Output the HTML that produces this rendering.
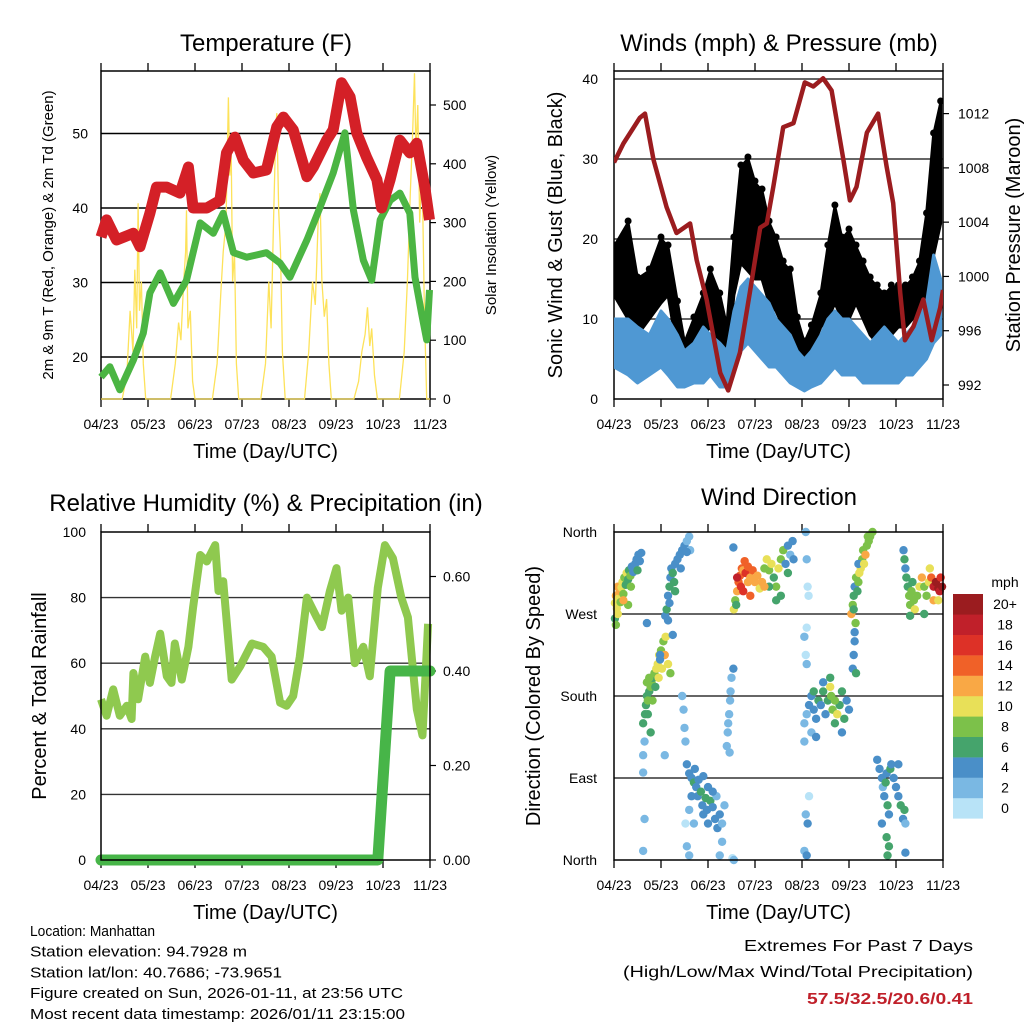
<!DOCTYPE html>
<html><head><meta charset="utf-8">
<style>
html,body{margin:0;padding:0;background:#fff;}
svg{display:block;font-family:"Liberation Sans",sans-serif;}
</style></head>
<body>
<svg id="chart" width="1024" height="1024" viewBox="0 0 1024 1024" xmlns="http://www.w3.org/2000/svg"></svg>
<script>
// ---------- DATA ----------
const xTickLabels = ["04/23","05/23","06/23","07/23","08/23","09/23","10/23","11/23"];
// Temperature (F)
const tempT = [0,0.12,0.33,0.69,0.83,1.04,1.18,1.40,1.68,1.86,1.96,2.25,2.53,2.67,2.85,3.03,3.24,3.52,3.74,3.88,4.09,4.38,4.52,4.80,4.94,5.12,5.30,5.44,5.65,5.87,5.97,6.15,6.36,6.57,6.72,6.89,6.99];
const tempV = [36.1,38.4,35.7,36.6,34.8,39.3,42.8,42.8,42,45.5,40,40,41,47.4,49.5,46.4,44.7,45.1,50.9,52.2,50.5,44.2,45.5,49.1,50.5,56.8,54.9,50.1,46.8,43.8,40,43.8,49.1,47.4,48.7,42.8,38.4];
const dewT = [0,0.19,0.40,0.69,0.90,1.04,1.26,1.54,1.82,2.11,2.39,2.60,2.82,3.10,3.52,3.81,4.02,4.38,4.66,4.94,5.19,5.37,5.58,5.76,5.94,6.15,6.36,6.57,6.68,6.82,6.93,6.99];
const dewV = [17.3,18.7,15.6,19.6,23.2,28.6,31.3,27.2,30.3,38,36.6,39.3,34,33.4,34,32.6,30.7,35.7,40.1,44.7,50.1,39.7,33,30.3,38.4,41,42,39.3,30.7,25.9,22.3,29];
const solarT = [0,0.45,0.55,0.62,0.68,0.72,0.76,0.79,0.82,0.86,0.90,0.95,1.48,1.58,1.65,1.70,1.76,1.80,1.82,1.85,1.90,1.95,2.00,2.37,2.47,2.55,2.60,2.66,2.71,2.74,2.77,2.80,2.84,2.88,2.93,3.40,3.50,3.57,3.62,3.67,3.72,3.74,3.78,3.82,3.86,3.92,4.33,4.42,4.50,4.56,4.62,4.66,4.70,4.75,4.80,4.85,4.90,5.38,5.48,5.55,5.62,5.67,5.72,5.76,5.82,5.88,6.35,6.45,6.52,6.58,6.63,6.67,6.70,6.74,6.78,6.83,6.88,6.93,7];
const solarV = [0,0,40,150,80,220,120,333,150,200,60,0,0,60,130,100,200,250,321,120,150,30,0,0,60,180,250,300,513,380,420,200,250,60,0,0,60,200,120,300,460,486,320,250,80,0,0,80,200,160,300,350,200,140,170,60,0,0,30,80,110,156,90,120,40,0,0,80,200,350,450,554,420,500,300,400,150,0,0];
// Winds & pressure
const windT = [0,0.3,0.5,0.75,1.0,1.15,1.35,1.5,1.7,1.9,2.05,2.25,2.4,2.55,2.7,2.85,3.0,3.15,3.3,3.45,3.6,3.75,3.9,4.05,4.2,4.4,4.55,4.7,4.85,5.0,5.15,5.3,5.45,5.6,5.75,5.9,6.05,6.2,6.35,6.5,6.65,6.8,6.95];
const gustHi = [19,22,15,16,20,19,12,7,10,13,16,13,9,20,29,30,27,26,22,20,17,16,10,7,9,13,19,24,20,21,19,17,15,14,13,14,14,14,15,17,23,33,37];
const gustLo = [13,10,8,10,12,13,6,4,6,8,9,7,4,13,17,16,15,15,12,11,9,8,5,5,6,9,10,12,10,10,12,10,8,7,7,8,9,9,10,11,13,18,22];
const sonicHi = [10,10,9,8,11,10,8,6,7,9,8,7,6,11,14,15,14,13,12,10,9,8,6,5,6,8,10,11,10,10,9,8,7,8,9,8,7,8,9,10,12,18,15];
const sonicLo = [4,3,2,3,4,3,1.5,1.5,2,2,3,1.5,1.5,4,6,7,6,5,4,4,3,2,1.5,1,1.5,2,3,4,3,3,3,2,2,2,2,2,2,3,3,4,5,7,8];
const presT = [0,0.2,0.55,0.66,0.84,1.12,1.33,1.62,1.76,1.97,2.26,2.43,2.68,2.89,3.11,3.25,3.39,3.6,3.82,4.06,4.24,4.45,4.63,4.88,5.02,5.16,5.38,5.62,5.8,5.94,6.09,6.19,6.37,6.58,6.76,6.94,7];
const presV = [1008.4,1009.8,1011.7,1012,1008.6,1005.1,1003.2,1003.9,1001.2,998.3,992.9,991.6,994.4,998.8,1003.6,1003.9,1006.6,1011,1011.3,1014.3,1014,1014.6,1013.7,1008.6,1005.6,1006.6,1010.6,1012,1008.1,1005.4,998.8,995.3,996.3,998.3,995.3,997.7,999];
// RH & precipitation
const rhT = [0,0.12,0.26,0.40,0.55,0.65,0.69,0.79,0.94,1.04,1.15,1.26,1.40,1.50,1.57,1.72,1.86,1.96,2.11,2.25,2.43,2.50,2.60,2.78,2.96,3.21,3.45,3.63,3.81,3.95,4.09,4.23,4.38,4.59,4.70,4.87,5.01,5.12,5.26,5.40,5.58,5.72,5.89,6.04,6.21,6.39,6.53,6.72,6.84,6.96];
const rhV = [49,44,52,44,47,43,57,49,62,54,62,69,56,54,66,55,65,77,93,91,96,82,85,55,59,66,65,62,48,47,50,62,80,74,71,82,89,76,80,60,65,56,83,96,92,80,74,46,38,72];
const precT = [0,5.89,6.15,7];
const precV = [0,0,0.40,0.40];
// Wind direction observations
const dirDay = [0.02,0.04,0.06,0.08,0.1,0.12,0.14,0.16,0.18,0.2,0.22,0.25,0.27,0.3,0.32,0.35,0.38,0.41,0.45,0.48,0.52,0.55,0.58,0.02,0.04,0.3,0.36,0.5,0.08,0.2,
0.62,0.66,0.68,0.7,0.72,0.75,0.78,0.8,0.83,0.86,0.9,0.93,0.96,1.0,1.05,1.1,0.7,0.75,0.88,0.95,1.02,0.72,0.78,0.82,1.08,1.15,1.2,0.65,0.62,0.62,0.65,0.62,1.08,0.98,0.7,0.98,
1.09,1.12,1.15,1.18,1.2,1.22,1.25,1.28,1.3,1.35,1.4,1.45,1.5,1.55,1.6,1.62,1.18,1.3,1.42,1.55,
1.15,1.25,1.45,1.48,1.5,1.52,1.52,1.55,1.6,
1.55,1.6,1.65,1.7,1.72,1.75,1.78,1.8,1.85,1.88,1.9,1.95,1.98,2.0,2.05,2.1,2.15,2.18,2.2,2.25,2.3,2.35,1.6,1.7,1.65,2.0,2.1,1.9,2.3,2.25,
2.4,2.42,2.45,2.47,2.48,2.5,2.43,2.46,2.52,2.55,2.54,2.54,
2.55,2.58,2.62,2.65,2.68,2.7,2.72,2.75,2.78,2.8,2.85,2.9,2.95,3.0,3.05,3.1,3.15,3.2,3.25,3.3,3.35,3.4,3.45,3.5,3.55,3.6,3.65,3.7,3.75,3.8,3.82,2.6,2.75,2.9,3.3,3.45,3.55,2.62,2.85,3.2,3.7,
4.08,4.1,4.12,4.14,4.1,4.05,4.08,4.1,4.15,4.08,4.12,4.05,4.1,
4.05,4.1,4.15,4.2,4.25,4.3,4.35,4.4,4.45,4.5,4.55,4.6,4.62,4.65,4.7,4.75,4.8,4.85,4.9,4.95,5.0,4.2,4.3,4.45,4.6,4.85,4.7,4.25,4.05,
5.08,5.1,5.12,5.12,5.15,5.14,
5.05,5.08,5.1,5.12,5.15,5.18,5.2,5.22,5.25,5.28,5.3,5.35,5.38,5.42,5.45,5.5,5.2,5.1,5.32,5.4,
5.6,5.65,5.7,5.72,5.75,5.78,5.8,5.82,5.85,5.88,5.9,5.95,6.0,6.05,6.1,6.15,6.18,5.85,5.8,5.82,6.05,5.7,6.2,6.2,
6.16,6.18,6.2,6.22,6.25,6.28,6.3,6.33,6.35,6.38,6.4,6.45,6.5,6.55,6.6,6.65,6.7,6.72,6.75,6.8,6.85,6.9,6.93,6.95,6.98,6.8,6.9,6.6,6.3];
const dirDeg = [282,290,276,300,287,295,283,299,305,292,310,302,315,308,318,312,322,316,325,330,335,328,337,265,258,280,300,318,270,285,
150,160,170,180,175,185,190,195,200,205,210,215,225,230,240,245,195,200,190,200,210,160,140,175,225,215,205,130,115,96,45,10,115,220,260,225,
268,275,290,300,310,320,315,305,325,330,335,340,345,350,355,340,282,295,320,338,
263,247,180,165,145,130,40,15,5,
105,95,90,85,100,80,70,88,75,60,50,68,55,40,65,58,45,70,35,50,40,60,55,40,70,80,75,92,20,5,
125,140,160,175,185,200,150,118,2,0,210,343,
275,285,295,305,312,300,320,318,328,315,322,310,318,305,312,298,305,320,330,318,325,310,300,320,330,340,325,345,335,350,330,280,295,290,300,285,290,310,305,300,315,
360,330,300,290,255,245,225,215,70,50,40,10,5,
150,160,170,180,165,155,175,170,185,160,175,190,180,165,150,160,170,185,155,175,165,140,135,195,200,140,175,185,130,
210,225,240,250,205,260,
270,280,290,300,310,295,305,315,320,330,340,335,345,350,355,360,325,275,325,355,
110,100,90,80,70,85,95,60,50,100,105,90,80,70,60,45,55,15,25,5,105,40,40,8,
340,330,320,310,300,290,280,295,305,285,275,290,300,310,300,290,305,320,310,300,305,298,295,310,300,285,285,270,268];
const dirSpd = [10,12,9,11,10,12,8,9,10,7,8,6,9,6,5,7,4,4,4,4,3,4,4,6,7,7,8,5,10,11,
5,6,6,6,7,6,8,7,6,8,9,10,9,8,8,9,8,7,6,10,10,6,6,8,11,10,7,2,2,2,2,2,2,4,3,3,
4,5,4,6,4,4,5,6,3,4,3,4,3,2,2,2,4,5,4,3,
4,3,2,2,2,2,0,2,2,
4,3,4,6,4,4,3,4,6,4,4,6,4,4,6,4,3,2,4,3,2,2,2,2,3,3,4,3,2,2,
2,2,2,2,2,2,2,2,0,2,4,4,
10,8,12,14,14,16,14,12,14,16,14,12,14,12,12,10,12,8,10,8,10,6,8,10,8,8,4,4,2,4,4,6,16,14,6,6,6,18,12,12,6,
2,2,0,0,0,2,0,2,0,2,4,2,4,
2,2,4,4,4,4,6,4,6,4,6,10,8,8,6,10,6,6,6,4,4,2,4,4,6,4,8,6,2,
4,4,4,4,6,8,
12,8,6,4,8,6,8,10,10,8,8,12,8,8,8,8,4,6,10,8,
4,4,4,2,4,6,4,6,4,6,4,4,4,4,6,4,6,6,6,6,4,4,2,4,
4,6,4,6,6,8,8,8,6,8,10,8,10,12,8,8,10,10,14,18,20,20,18,16,20,12,10,6,6];
const speedColors = ["#b8e3f7","#7ab8e3","#4a8fc8","#45a46c","#7cc14a","#e8e058","#f9a845","#f06128","#dd3127","#c0202a","#9b1c1f"];
const speedLabels = ["0","2","4","6","8","10","12","14","16","18","20+"];
const dirLabels = ["North","East","South","West","North"];

// ---------- HELPERS ----------
const NS = "http://www.w3.org/2000/svg";
const svg = document.getElementById("chart");
function mk(tag, attrs, parent) {
  const e = document.createElementNS(NS, tag);
  for (const k in attrs) e.setAttribute(k, attrs[k]);
  (parent || svg).appendChild(e);
  return e;
}
function txt(s, x, y, size, anchor, parent, extra) {
  const e = mk("text", Object.assign({x: x, y: y, "font-size": size, "text-anchor": anchor || "middle", fill: "#000"}, extra || {}), parent);
  e.textContent = s;
  return e;
}
function pathFrom(xs, ys) {
  let d = "";
  for (let i = 0; i < xs.length; i++) d += (i ? "L" : "M") + xs[i].toFixed(1) + "," + ys[i].toFixed(1);
  return d;
}
const XW = 47; // px per day
function xAxisScale(x0) { return d => x0 + d * XW; }

function frame(x0, y0, name) {
  const g = mk("g", {});
  
  
  for (let i = 0; i < xTickLabels.length; i++) {
    const x = x0 + i * XW;
    mk("line", {x1: x, x2: x, y1: y0 - 8, y2: y0, stroke: "#000", "stroke-width": 1.3}, g);
    mk("line", {x1: x, x2: x, y1: y0 + 328, y2: y0 + 336, stroke: "#000", "stroke-width": 1.3}, g);
    const t = txt(xTickLabels[i], x, y0 + 358, 14, "middle", g);
    
    
  }
  const xt = txt("Time (Day/UTC)", x0 + 164.5, y0 + 387, 20, "middle", g);
  
  
  return g;
}
function box(x0, y0, parent) {
  mk("rect", {x: x0, y: y0, width: 329, height: 328, fill: "none", stroke: "#000", "stroke-width": 1.5}, parent);
}
function hline(x0, y, parent, col) {
  mk("line", {x1: x0, x2: x0 + 329, y1: y, y2: y, stroke: col || "#000", "stroke-width": 1.4}, parent);
}

// ---------- PANEL 1: TEMPERATURE ----------
(function () {
  const x0 = 101, y0 = 71;
  const X = xAxisScale(x0);
  const YT = v => 357 - (v - 20) * 7.45;
  const YS = v => 399 - v * 0.588;
  const g = frame(x0, y0, "temperature-panel");
  const title = txt("Temperature (F)", 266, 51, 24, "middle");
  
  
  [20, 30, 40, 50].forEach(v => {
    hline(x0, YT(v), g);
    const t = txt(String(v), 88, YT(v) + 5, 14, "end", g);
    
    
  });
  [0, 100, 200, 300, 400, 500].forEach(v => {
    mk("line", {x1: 430, x2: 436, y1: YS(v), y2: YS(v), stroke: "#000", "stroke-width": 1.2}, g);
    const t = txt(String(v), 443, YS(v) + 5, 14, "start", g);
    
    
  });
  const sol = mk("path", {d: pathFrom(solarT.map(X), solarV.map(YS)), fill: "none", stroke: "#fde25a", "stroke-width": 1.3});
  
  
  const dew = mk("path", {d: pathFrom(dewT.map(X), dewV.map(YT)), fill: "none", stroke: "#4bb543", "stroke-width": 7, "stroke-linejoin": "round"});
  
  
  const tl = mk("path", {d: pathFrom(tempT.map(X), tempV.map(YT)), fill: "none", stroke: "#d42027", "stroke-width": 11, "stroke-linejoin": "round"});
  
  
  box(x0, y0, g);
  const yl = txt("2m & 9m T (Red, Orange) & 2m Td (Green)", 0, 0, 15, "middle", g, {transform: "translate(53,235) rotate(-90)"});
  
  
  const yr = txt("Solar Insolation (Yellow)", 0, 0, 15, "middle", g, {transform: "translate(496,235) rotate(-90)"});
  
  
})();

// ---------- PANEL 2: WINDS ----------
(function () {
  const x0 = 614, y0 = 71;
  const X = xAxisScale(x0);
  const YW = v => 399 - v * 8;
  const YP = v => 385 - (v - 992) * 13.57;
  const g = frame(x0, y0, "winds-panel");
  const title = txt("Winds (mph) & Pressure (mb)", 779, 51, 24, "middle");
  
  
  [10, 20, 30, 40].forEach(v => hline(x0, YW(v) , g, "#333"));
  [0, 10, 20, 30, 40].forEach(v => {
    const t = txt(String(v), 598, YW(v) + 5, 14, "end", g);
    
    
  });
  [992, 996, 1000, 1004, 1008, 1012].forEach(v => {
    mk("line", {x1: 943, x2: 949, y1: YP(v), y2: YP(v), stroke: "#000", "stroke-width": 1.2}, g);
    const t = txt(String(v), 958, YP(v) + 5, 14, "start", g);
    
    
  });
  const clip = mk("clipPath", {id: "c2"});
  mk("rect", {x: x0, y: y0, width: 329, height: 328}, clip);
  const data = mk("g", {"clip-path": "url(#c2)"});
  const gx = windT.map(X);
  let d = pathFrom(gx, gustHi.map(YW)) + pathFrom(gx.slice().reverse(), gustLo.map(YW).reverse()).replace("M", "L") + "Z";
  const ga = mk("path", {d: d, fill: "#000", stroke: "#000", "stroke-width": 3, "stroke-linejoin": "round"}, data);
  
  
  for (let i = 0; i < windT.length; i++) {
    const c = mk("circle", {cx: gx[i], cy: YW(gustHi[i]) - 2, r: 3.5, fill: "#000"}, data);
    
    
  }
  d = pathFrom(gx, sonicHi.map(YW)) + pathFrom(gx.slice().reverse(), sonicLo.map(YW).reverse()).replace("M", "L") + "Z";
  const sa = mk("path", {d: d, fill: "#4f98d3", stroke: "#4f98d3", "stroke-width": 3, "stroke-linejoin": "round"}, data);
  
  
  const pl = mk("path", {d: pathFrom(presT.map(X), presV.map(YP)), fill: "none", stroke: "#9b1c1f", "stroke-width": 4.5, "stroke-linejoin": "round"}, data);
  
  
  box(x0, y0, g);
  const yl = txt("Sonic Wind & Gust (Blue, Black)", 0, 0, 20, "middle", g, {transform: "translate(562,235) rotate(-90)"});
  
  
  const yr = txt("Station Pressure (Maroon)", 0, 0, 20, "middle", g, {transform: "translate(1020,235) rotate(-90)"});
  
  
})();

// ---------- PANEL 3: RH & PRECIP ----------
(function () {
  const x0 = 101, y0 = 532;
  const X = xAxisScale(x0);
  const YR = v => 860 - v * 3.28;
  const YP = v => 860 - v * 472.5;
  const g = frame(x0, y0, "humidity-panel");
  const title = txt("Relative Humidity (%) & Precipitation (in)", 266, 511, 24, "middle");
  
  
  [20, 40, 60, 80].forEach(v => hline(x0, YR(v), g, "#333"));
  [0, 20, 40, 60, 80, 100].forEach(v => {
    const t = txt(String(v), 86, YR(v) + 5, 14, "end", g);
    
    
  });
  [0, 0.2, 0.4, 0.6].forEach(v => {
    mk("line", {x1: 430, x2: 436, y1: YP(v), y2: YP(v), stroke: "#000", "stroke-width": 1.2}, g);
    const t = txt(v.toFixed(2), 443, YP(v) + 5, 14, "start", g);
    
    
  });
  const rh = mk("path", {d: pathFrom(rhT.map(X), rhV.map(YR)), fill: "none", stroke: "#8fc94f", "stroke-width": 8, "stroke-linejoin": "round"}, g);
  
  
  const pr = mk("path", {d: pathFrom(precT.map(X), precV.map(YP)), fill: "none", stroke: "#47b548", "stroke-width": 11, "stroke-linejoin": "round", "stroke-linecap": "round"}, g);
  
  
  box(x0, y0, g);
  const yl = txt("Percent & Total Rainfall", 0, 0, 20, "middle", g, {transform: "translate(46,696) rotate(-90)"});
  
  
})();

// ---------- PANEL 4: WIND DIRECTION ----------
(function () {
  const x0 = 614, y0 = 532;
  const X = xAxisScale(x0);
  const YD = v => 860 - v * (328 / 360);
  const g = frame(x0, y0, "wind-direction-panel");
  const title = txt("Wind Direction", 779, 505, 24, "middle");
  
  
  [90, 180, 270].forEach(v => hline(x0, YD(v), g, "#333"));
  dirLabels.forEach((s, i) => {
    const t = txt(s, 597, YD(i * 90) + 5, 14, "end", g);
    
    
  });
  for (let i = 0; i < dirDay.length; i++) {
    const ci = Math.min(10, Math.round(dirSpd[i] / 2));
    const c = mk("circle", {cx: X(dirDay[i]), cy: YD(dirDeg[i]), r: 4.2, fill: speedColors[ci]}, g);
    
    
  }
  box(x0, y0, g);
  const yl = txt("Direction (Colored By Speed)", 0, 0, 20, "middle", g, {transform: "translate(540,696) rotate(-90)"});
  
  
  const cb = mk("g", {});
  
  
  const t0 = txt("mph", 1005, 587, 14, "middle", cb);
  
  
  for (let i = 0; i < speedColors.length; i++) {
    const y = 594 + (10 - i) * 20.4;
    const r = mk("rect", {x: 953, y: y, width: 30, height: 20.6, fill: speedColors[i]}, cb);
    
    
    const t = txt(speedLabels[i], 1005, y + 15, 14, "middle", cb);
    
    
  }
})();

// ---------- FOOTER ----------
const info = ["Location: Manhattan","Station elevation: 94.7928 m","Station lat/lon: 40.7686; -73.9651","Figure created on Sun, 2026-01-11, at 23:56 UTC","Most recent data timestamp: 2026/01/11 23:15:00"];
const infoW = [125, 217, 252, 373, 375];
info.forEach((s, i) => {
  const t = txt(s, 30, 936 + i * 20.7, 15, "start", null, {textLength: infoW[i], lengthAdjust: "spacingAndGlyphs"});
  
  
});
const e1 = txt("Extremes For Past 7 Days", 973, 951, 16, "end", null, {textLength: 229, lengthAdjust: "spacingAndGlyphs"});


const e2 = txt("(High/Low/Max Wind/Total Precipitation)", 973, 977, 16, "end", null, {textLength: 350, lengthAdjust: "spacingAndGlyphs"});


const e3 = txt("57.5/32.5/20.6/0.41", 973, 1004, 16, "end", null, {fill: "#c0202a", "font-weight": "bold", textLength: 166, lengthAdjust: "spacingAndGlyphs"});


</script>
</body></html>
